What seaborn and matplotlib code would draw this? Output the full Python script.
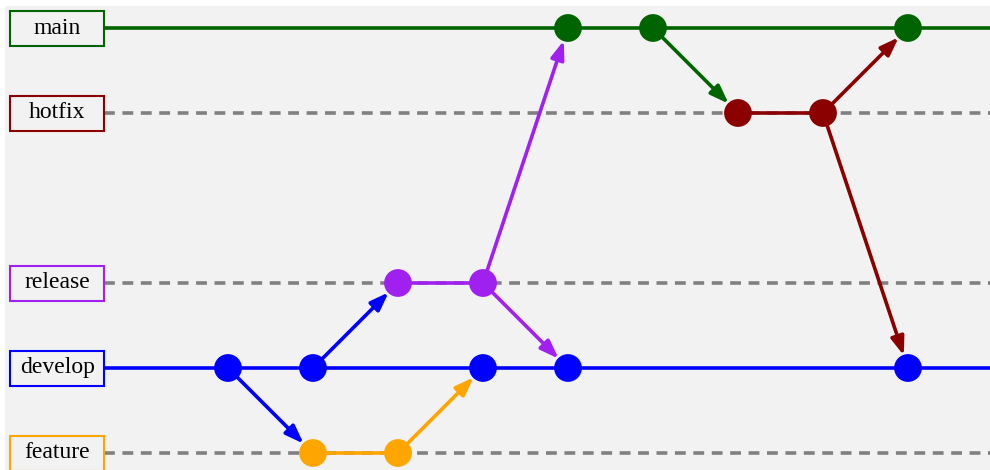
import matplotlib
matplotlib.use("Agg")
import matplotlib.pyplot as plt
from matplotlib.patches import Rectangle
import seaborn as sns
import pandas as pd

# ---- data ----
branches = ["main", "hotfix", "release", "develop", "feature"]
branch_rows = [0, 1, 3, 4, 5]
branch_colors = ["#006400", "#8b0000", "#a020f0", "#0000ff", "#ffa500"]
solid_branches = ["main", "develop"]

commit_branch = ["develop", "develop", "feature", "feature", "release", "release",
                 "develop", "main", "develop", "main", "hotfix", "hotfix", "main", "develop"]
commit_col = [1, 2, 2, 3, 3, 4, 4, 5, 5, 6, 7, 8, 9, 9]

merge_from_branch = ["develop", "develop", "feature", "release", "release", "main", "hotfix", "hotfix"]
merge_from_col = [1, 2, 3, 4, 4, 6, 8, 8]
merge_to_branch = ["feature", "release", "develop", "main", "develop", "hotfix", "main", "develop"]
merge_to_col = [2, 3, 4, 5, 5, 7, 9, 9]

# ---- figure ----
sns.set_theme(style="white")
plt.rcParams["font.family"] = ["Liberation Serif", "DejaVu Serif"]

W, H = 990, 470
fig = plt.figure(figsize=(W / 100, H / 100), dpi=100)
fig.patch.set_facecolor("white")
ax = fig.add_axes([5 / W, 0, 985 / W, 464 / H])
ax.set_facecolor("#f2f2f2")
for s in ax.spines.values():
    s.set_visible(False)
ax.set_xticks([])
ax.set_yticks([])

ax.set_xlim((5 - 143) / 85, (990 - 143) / 85)
ax.set_ylim((470 - 28) / 85, (6 - 28) / 85)

row_of = dict(zip(branches, branch_rows))
color_of = dict(zip(branches, branch_colors))

label_x = -1.01
box_w = 94 / 85
box_h = 35 / 85
line_start = label_x + box_w / 2
x_end = (990 - 143) / 85 + 0.1
lw = 2.6

df = pd.DataFrame({"branch": commit_branch, "col": commit_col})
df["row"] = df["branch"].map(row_of)

for b, r, c in zip(branches, branch_rows, branch_colors):
    if b in solid_branches:
        ax.plot([line_start, x_end], [r, r], color=c, lw=lw, zorder=1, solid_capstyle="butt")
    else:
        ax.plot([line_start, x_end], [r, r], color="#808080", lw=lw, zorder=1,
                dashes=(3.0, 2.1))
        cols = sorted(df.loc[df["branch"] == b, "col"])
        ax.plot([cols[0], cols[-1]], [r, r], color=c, lw=lw, zorder=2)
    ax.add_patch(Rectangle((label_x - box_w / 2, r - box_h / 2), box_w, box_h,
                           facecolor="#f2f2f2", edgecolor=c, lw=1.5, zorder=3))
    ax.text(label_x, r, b, ha="center", va="center", fontsize=17, color="black",
            zorder=4)

for fb, fc, tb, tc in zip(merge_from_branch, merge_from_col, merge_to_branch, merge_to_col):
    ax.annotate("", xy=(tc, row_of[tb]), xytext=(fc, row_of[fb]),
                arrowprops=dict(arrowstyle="-|>,head_length=0.55,head_width=0.2",
                                color=color_of[fb], lw=lw,
                                mutation_scale=20, shrinkA=9, shrinkB=9.5),
                zorder=5)

sns.scatterplot(data=df, x="col", y="row", hue="branch", palette=color_of,
                s=400, edgecolor="none", legend=False, ax=ax, zorder=6)
ax.set_xlabel("")
ax.set_ylabel("")
ax.set_xlim((5 - 143) / 85, (990 - 143) / 85)
ax.set_ylim((470 - 28) / 85, (6 - 28) / 85)

fig.savefig("out.png", dpi=100)
